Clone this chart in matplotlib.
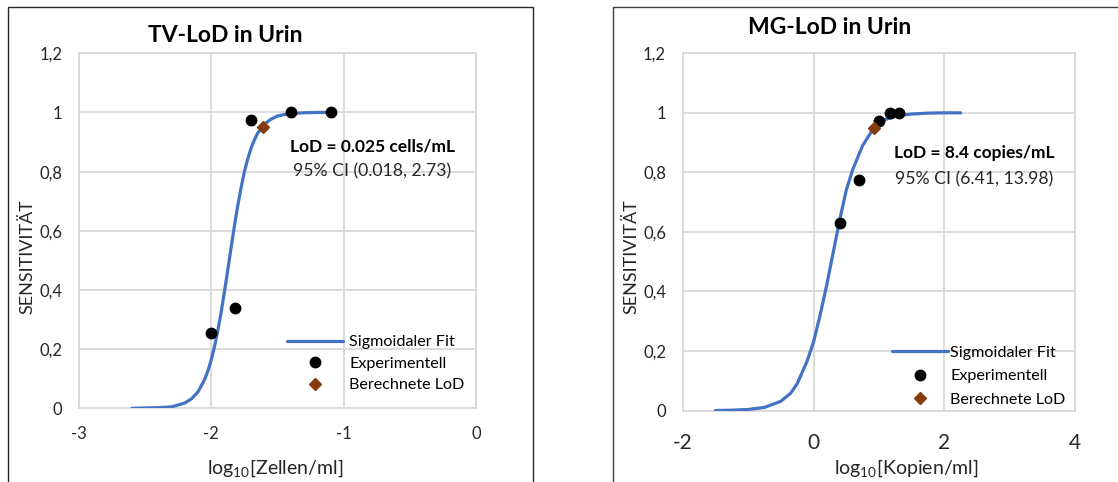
import matplotlib
matplotlib.use('Agg')
import matplotlib.pyplot as plt
from matplotlib.patches import Rectangle

plt.rcParams['font.family'] = ['Lato', 'DejaVu Sans']

W, H = 1118, 482

# TV panel data (log10 cells/ml)
tv_exp_x = [-2.0, -1.824, -1.699, -1.398, -1.097]
tv_exp_y = [0.255, 0.34, 0.975, 1.0, 1.0]
tv_lod_x = [-1.61]
tv_lod_y = [0.95]
tv_fit_x = [-2.6, -2.4, -2.3, -2.2, -2.15, -2.1, -2.05, -2.025, -2.0, -1.975, -1.95, -1.925,
            -1.9, -1.875, -1.85, -1.825, -1.8, -1.775, -1.75, -1.725, -1.7, -1.675, -1.65,
            -1.6, -1.55, -1.5, -1.45, -1.4, -1.3, -1.2, -1.1]
tv_fit_y = [0.0, 0.002, 0.005, 0.018, 0.032, 0.056, 0.098, 0.128, 0.165, 0.211, 0.265, 0.327,
            0.397, 0.47, 0.545, 0.618, 0.686, 0.746, 0.8, 0.843, 0.879, 0.907, 0.93,
            0.96, 0.977, 0.988, 0.993, 0.996, 0.999, 1.0, 1.0]

# MG panel data (log10 copies/ml)
mg_exp_x = [0.398, 0.699, 1.0, 1.176, 1.301]
mg_exp_y = [0.631, 0.774, 0.974, 1.0, 1.0]
mg_lod_x = [0.924]
mg_lod_y = [0.95]
mg_fit_x = [-1.5, -1.25, -1.0, -0.75, -0.5, -0.35, -0.25, -0.1, 0.0, 0.1, 0.2, 0.3,
            0.4, 0.5, 0.6, 0.75, 0.924, 1.1, 1.3, 1.5, 1.75, 2.0, 2.25]
mg_fit_y = [0.0, 0.001, 0.0035, 0.0103, 0.031, 0.058, 0.09, 0.165, 0.23, 0.32, 0.42, 0.53,
            0.64, 0.74, 0.81, 0.89, 0.95, 0.978, 0.991, 0.996, 0.999, 1.0, 1.0]

y_ticks = [0, 0.2, 0.4, 0.6, 0.8, 1.0, 1.2]
y_ticklabels = ['0', '0,2', '0,4', '0,6', '0,8', '1', '1,2']

BLUE = '#4472C4'
BROWN = '#843C0C'
GRID = '#D9D9D9'
TXT = '#262626'


def fx(x):
    return x / W


def fy(y):
    return 1 - y / H


fig = plt.figure(figsize=(W / 100, H / 100), dpi=100)

# panel borders (Excel chart areas)
fig.patches.append(Rectangle((fx(8), fy(520)), fx(533 - 8), (520 - 7) / H, transform=fig.transFigure,
                             fill=False, edgecolor='#262626', lw=1))
fig.patches.append(Rectangle((fx(613), fy(520)), fx(1140 - 613), (520 - 7) / H, transform=fig.transFigure,
                             fill=False, edgecolor='#404040', lw=1))


def make_panel(rect, fit_x, fit_y, exp_x, exp_y, lod_x, lod_y, xlim, xticks,
               xtick_size, xpad, leg_anchor, leg_space, leg_pad):
    ax = fig.add_axes(rect)
    ax.plot(fit_x, fit_y, color=BLUE, lw=2.3, solid_capstyle='round', solid_joinstyle='round',
            zorder=3, label='Sigmoidaler Fit')
    ax.plot(exp_x, exp_y, 'o', color='black', ms=7.5, zorder=4, label='Experimentell')
    ax.plot(lod_x, lod_y, 'D', color=BROWN, ms=6.5, zorder=5, label='Berechnete LoD')
    ax.set_xlim(xlim)
    ax.set_ylim(0, 1.2)
    ax.set_xticks(xticks)
    ax.set_xticklabels([str(t) for t in xticks])
    ax.set_yticks(y_ticks)
    ax.set_yticklabels(y_ticklabels)
    ax.grid(True, color=GRID, lw=1.3)
    ax.set_axisbelow(True)
    for s in ax.spines.values():
        s.set_color(GRID)
        s.set_linewidth(1.3)
    ax.tick_params(axis='y', length=0, pad=12, labelsize=12, colors=TXT)
    ax.tick_params(axis='x', length=0, pad=xpad, labelsize=xtick_size, colors=TXT)
    ax.legend(loc='upper left', bbox_to_anchor=leg_anchor, bbox_transform=fig.transFigure,
              frameon=False, fontsize=11.6, handlelength=3.5, handletextpad=leg_pad,
              borderpad=0, borderaxespad=0, labelspacing=leg_space, markerfirst=True)
    return ax


ax1 = make_panel([fx(79), fy(408.3), fx(476 - 79), (408.3 - 53.3) / H],
                 tv_fit_x, tv_fit_y, tv_exp_x, tv_exp_y, tv_lod_x, tv_lod_y,
                 (-3, 0), [-3, -2, -1, 0], 12, 13, (fx(287), fy(335)), 0.45, 0.35)
ax2 = make_panel([fx(682.7), fy(410.5), fx(1075.2 - 682.7), (410.5 - 53.3) / H],
                 mg_fit_x, mg_fit_y, mg_exp_x, mg_exp_y, mg_lod_x, mg_lod_y,
                 (-2, 4), [-2, 0, 2, 4], 15, 16, (fx(892), fy(345.5)), 0.58, 0.1)

# titles
fig.text(fx(148), fy(35), 'TV-LoD in Urin', fontsize=16.5, fontweight='bold', va='center', ha='left')
fig.text(fx(748), fy(28), 'MG-LoD in Urin', fontsize=16.5, fontweight='bold', va='center', ha='left')

# LoD annotations
fig.text(fx(372), fy(147), 'LoD = 0.025 cells/mL', fontsize=12.5, fontweight='bold', ha='center', va='center')
fig.text(fx(372), fy(171), '95% CI (0.018, 2.73)', fontsize=12.7, ha='center', va='center', color=TXT)
fig.text(fx(974), fy(153), 'LoD = 8.4 copies/mL', fontsize=12.5, fontweight='bold', ha='center', va='center')
fig.text(fx(974), fy(179), '95% CI (6.41, 13.98)', fontsize=12.7, ha='center', va='center', color=TXT)

# axis labels
fig.text(fx(27), fy(257), 'SENSITIVITÄT', rotation=90, fontsize=13, ha='center', va='center', color=TXT)
fig.text(fx(631), fy(257), 'SENSITIVITÄT', rotation=90, fontsize=13, ha='center', va='center', color=TXT)
fig.text(fx(275), fy(468), r'log$_{\mathregular{10}}$[Zellen/ml]', fontsize=14, ha='center', va='center',
         color=TXT)
fig.text(fx(906), fy(468), r'log$_{\mathregular{10}}$[Kopien/ml]', fontsize=14, ha='center', va='center',
         color=TXT)

fig.savefig('out.png', dpi=100)
